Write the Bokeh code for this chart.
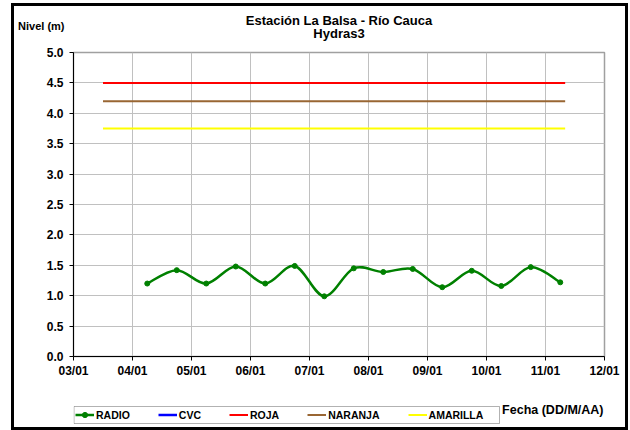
import numpy as np
import pandas as pd
from bokeh.plotting import figure
from bokeh.layouts import column
from bokeh.models import (Range1d, FixedTicker, DatetimeTickFormatter, Legend, LegendItem,
                          Label, BoxAnnotation, NumeralTickFormatter)
from bokeh.embed import file_html
from bokeh.resources import INLINE

# ---------------- data ----------------
titulo = "Estación La Balsa - Río Cauca"
subtitulo = "Hydras3"
eje_y = "Nivel (m)"
eje_x = "Fecha (DD/M/AA)"

fechas_radio = ["2011-01-04 06:00", "2011-01-04 18:00", "2011-01-05 06:00", "2011-01-05 18:00",
                "2011-01-06 06:00", "2011-01-06 18:00", "2011-01-07 06:00", "2011-01-07 18:00",
                "2011-01-08 06:00", "2011-01-08 18:00", "2011-01-09 06:00", "2011-01-09 18:00",
                "2011-01-10 06:00", "2011-01-10 18:00", "2011-01-11 06:00"]
nivel_radio = [1.20, 1.42, 1.20, 1.48, 1.20, 1.49, 0.99, 1.45, 1.39, 1.44, 1.14, 1.41, 1.16, 1.47, 1.22]

fechas_cvc = []
nivel_cvc = []

fechas_umbral = ["2011-01-03 12:00", "2011-01-11 08:00"]
nivel_roja = 4.5
nivel_naranja = 4.2
nivel_amarilla = 3.75

fechas_ticks = ["2011-01-03", "2011-01-04", "2011-01-05", "2011-01-06", "2011-01-07",
                "2011-01-08", "2011-01-09", "2011-01-10", "2011-01-11", "2011-01-12"]
niveles_ticks = [0.0, 0.5, 1.0, 1.5, 2.0, 2.5, 3.0, 3.5, 4.0, 4.5, 5.0]

series_nombres = ["RADIO", "CVC", "ROJA", "NARANJA", "AMARILLA"]
series_colores = ["#008000", "#0000ff", "#ff0000", "#996633", "#ffff00"]


def to_ms(vals):
    if len(vals) == 0:
        return np.array([], dtype="float64")
    return pd.to_datetime(vals).values.astype("datetime64[ms]").astype("float64")


x_radio = to_ms(fechas_radio)
y_radio = np.array(nivel_radio, dtype=float)
x_umbral = to_ms(fechas_umbral)
x_ticks = to_ms(fechas_ticks)

FONT = "Liberation Sans"
W = 611
H_TOP, H_MAIN, H_BOT = 38, 346, 37
B_LEFT, B_RIGHT = 59, 21
# page x of the (column-aligned) plot frames
X0 = 14 + B_LEFT
X1 = 14 + W - B_RIGHT


def strip(height, y_axis=None):
    f = figure(width=W, height=height, output_backend="svg", toolbar_location=None,
               x_range=Range1d(X0, X1), y_range=Range1d(height, 0),
               x_axis_location=None, y_axis_location=y_axis,
               min_border_left=B_LEFT, min_border_right=B_RIGHT,
               min_border_top=0, min_border_bottom=0)
    f.grid.visible = False
    f.outline_line_color = None
    f.background_fill_color = "white"
    f.border_fill_color = "white"
    return f


def texto(f, text, x, y, size, align="left"):
    f.add_layout(Label(x=x, y=y, text=text, text_align=align, text_baseline="middle",
                       text_font=FONT, text_font_style="bold", text_font_size=size,
                       text_color="black"))


# ---------------- top strip: titles + axis title ----------------
top = strip(H_TOP, "left")
texto(top, titulo, 338.5, 14, "13px", "center")
texto(top, subtitulo, 338.5, 27, "13px", "center")
ya = top.yaxis[0]
ya.ticker = FixedTicker(ticks=[])
ya.axis_line_color = None
ya.major_tick_line_color = None
ya.minor_tick_line_color = None
ya.major_tick_out = 0
ya.major_tick_in = 0
ya.major_label_standoff = 0
ya.axis_label = eje_y
ya.axis_label_orientation = "horizontal"
ya.axis_label_standoff = 9
ya.axis_label_text_font = FONT
ya.axis_label_text_font_style = "bold"
ya.axis_label_text_font_size = "11px"
ya.axis_label_text_color = "black"

# ---------------- main chart ----------------
p = figure(width=W, height=H_MAIN, output_backend="svg", toolbar_location=None,
           x_axis_type="datetime",
           x_range=Range1d(x_ticks[0], x_ticks[-1]),
           y_range=Range1d(niveles_ticks[0], niveles_ticks[-1]),
           min_border_left=B_LEFT, min_border_top=8, min_border_right=B_RIGHT, min_border_bottom=34)
p.background_fill_color = "white"
p.border_fill_color = "white"
p.outline_line_color = "#a0a0a0"
p.outline_line_width = 1.5

p.xaxis.ticker = FixedTicker(ticks=list(x_ticks))
fmt = "%d/%m"
p.xaxis.formatter = DatetimeTickFormatter(days=fmt, months=fmt, hours=fmt, hourmin=fmt,
                                          minutes=fmt, years=fmt)
p.yaxis.ticker = FixedTicker(ticks=niveles_ticks)
p.yaxis.formatter = NumeralTickFormatter(format="0.0")
for ax in (p.xaxis, p.yaxis):
    ax.axis_line_color = "black"
    ax.axis_line_width = 1
    ax.major_tick_line_color = "black"
    ax.major_tick_out = 4
    ax.major_tick_in = 0
    ax.minor_tick_line_color = None
    ax.major_label_text_font = FONT
    ax.major_label_text_font_style = "bold"
    ax.major_label_text_font_size = "12px"
    ax.major_label_text_color = "black"
p.yaxis.major_label_standoff = 6
p.xaxis.major_label_standoff = 3
p.xgrid.ticker = FixedTicker(ticks=list(x_ticks))
p.grid.grid_line_color = "#c0c0c0"
p.grid.grid_line_width = 1

p.line(x=x_umbral, y=[nivel_roja] * len(x_umbral), line_color=series_colores[2], line_width=2)
p.line(x=x_umbral, y=[nivel_naranja] * len(x_umbral), line_color=series_colores[3], line_width=2)
p.line(x=x_umbral, y=[nivel_amarilla] * len(x_umbral), line_color=series_colores[4], line_width=2)
p.line(x=to_ms(fechas_cvc), y=np.array(nivel_cvc, dtype=float), line_color=series_colores[1], line_width=2.5)

# smoothed RADIO curve (Catmull-Rom -> cubic Bezier segments through the data points)
n = len(x_radio)
idx = np.arange(n - 1)
prev_i = np.maximum(idx - 1, 0)
next_i = np.minimum(idx + 2, n - 1)
cx0 = x_radio[idx] + (x_radio[idx + 1] - x_radio[prev_i]) / 6.0
cy0 = y_radio[idx] + (y_radio[idx + 1] - y_radio[prev_i]) / 6.0
cx1 = x_radio[idx + 1] - (x_radio[next_i] - x_radio[idx]) / 6.0
cy1 = y_radio[idx + 1] - (y_radio[next_i] - y_radio[idx]) / 6.0
p.bezier(x0=x_radio[:-1], y0=y_radio[:-1], x1=x_radio[1:], y1=y_radio[1:],
         cx0=cx0, cy0=cy0, cx1=cx1, cy1=cy1, line_color=series_colores[0], line_width=2.5)
p.scatter(x=x_radio, y=y_radio, marker="circle", size=5,
          fill_color=series_colores[0], line_color=series_colores[0])

# ---------------- bottom strip: legend + x title ----------------
bot = strip(H_BOT)
nan = float("nan")
lw = [2.5, 2.5, 2, 2, 2]
items = []
for i, (nombre, color) in enumerate(zip(series_nombres, series_colores)):
    rs = [bot.line(x=[nan], y=[nan], line_color=color, line_width=lw[i])]
    if i == 0:
        rs.append(bot.scatter(x=[nan], y=[nan], marker="circle", size=5,
                              fill_color=color, line_color=color))
    items.append(LegendItem(label=nombre, renderers=rs))

legend = Legend(items=items, orientation="horizontal", location=(0, 4),
                glyph_width=19, glyph_height=13, label_height=13, label_standoff=2,
                spacing=28, padding=2, margin=0,
                border_line_alpha=0, background_fill_alpha=0,
                label_text_font=FONT, label_text_font_style="bold",
                label_text_font_size="10.5px", label_text_color="black")
bot.add_layout(legend)
bot.add_layout(BoxAnnotation(left=0.5, right=426, bottom=4, top=21,
                             left_units="screen", right_units="screen",
                             bottom_units="screen", top_units="screen",
                             fill_alpha=0, line_color="black", line_width=1))
texto(bot, eje_x, 603, 19, "12.5px", "right")

layout = column(top, p, bot, spacing=0,
                styles={"border": "3px solid black", "margin-left": "11px", "margin-top": "3px"})

open("out.html", "w").write(file_html(layout, INLINE))
